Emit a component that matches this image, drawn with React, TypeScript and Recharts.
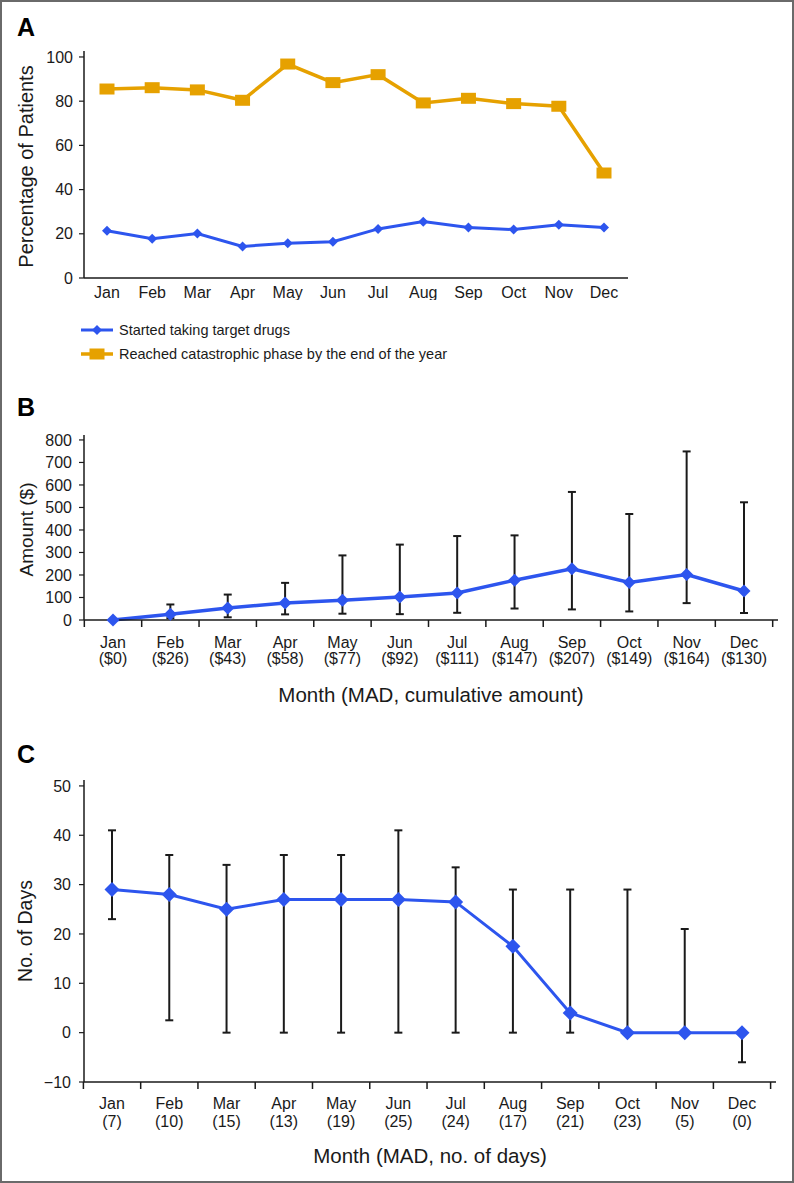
import React from "react";
import { LineChart, Line, XAxis, YAxis, ErrorBar } from "recharts";

const months = ["Jan", "Feb", "Mar", "Apr", "May", "Jun", "Jul", "Aug", "Sep", "Oct", "Nov", "Dec"];

// Panel A
const startedTargetDrugs = [21.4, 17.8, 20.1, 14.3, 15.7, 16.4, 22.2, 25.5, 22.8, 21.9, 24.1, 22.8];
const reachedCatastrophic = [85.5, 86.1, 85.1, 80.4, 96.8, 88.4, 92.0, 79.2, 81.3, 78.9, 77.7, 47.5];
const percentTicks = [0, 20, 40, 60, 80, 100];

// Panel B
const amountMad = ["$0", "$26", "$43", "$58", "$77", "$92", "$111", "$147", "$207", "$149", "$164", "$130"];
const amountMedian = [0, 26, 53, 76, 88, 102, 120, 177, 228, 167, 202, 129];
const amountLow = [0, 8, 12, 25, 28, 26, 32, 51, 47, 38, 75, 31];
const amountHigh = [0, 69, 113, 165, 287, 335, 373, 376, 569, 471, 749, 523];
const amountTicks = [0, 100, 200, 300, 400, 500, 600, 700, 800];

// Panel C
const daysMad = ["7", "10", "15", "13", "19", "25", "24", "17", "21", "23", "5", "0"];
const daysMedian = [29, 28, 25, 27, 27, 27, 26.5, 17.5, 4, 0, 0, 0];
const daysLow = [23, 2.5, 0, 0, 0, 0, 0, 0, 0, 0, 0, -6];
const daysHigh = [41, 36, 34, 36, 36, 41, 33.5, 29, 29, 29, 21, 0];
const daysTicks = [-10, 0, 10, 20, 30, 40, 50];

const percentData = months.map((month, i) => ({
  month,
  started: startedTargetDrugs[i],
  catastrophic: reachedCatastrophic[i]
}));

const amountData = months.map((month, i) => ({
  month,
  median: amountMedian[i],
  range: [amountMedian[i] - amountLow[i], amountHigh[i] - amountMedian[i]]
}));

const daysData = months.map((month, i) => ({
  month,
  median: daysMedian[i],
  range: [daysMedian[i] - daysLow[i], daysHigh[i] - daysMedian[i]]
}));

const BLUE = "#2d55ee";
const ORANGE = "#e6a100";
const INK = "#1a1a1a";
const SANS = '"Liberation Sans", Arial, Helvetica, sans-serif';

function diamondDot(r: number, fill: string) {
  return (props: any) => {
    const { cx, cy, index } = props;
    if (cx == null || cy == null) return <g key={`d-${index}`} />;
    return (
      <polygon
        key={`d-${index}`}
        points={`${cx},${cy - r} ${cx + r},${cy} ${cx},${cy + r} ${cx - r},${cy}`}
        fill={fill}
      />
    );
  };
}

function squareDot(w: number, h: number, fill: string) {
  return (props: any) => {
    const { cx, cy, index } = props;
    if (cx == null || cy == null) return <g key={`s-${index}`} />;
    return <rect key={`s-${index}`} x={cx - w / 2} y={cy - h / 2} width={w} height={h} fill={fill} />;
  };
}

type TickOpts = {
  band: number;
  sub: string[];
  size: number;
  line1: number;
  line2: number;
};

// two-line month labels, tick marks sit on the category boundaries
function monthTick(opts: TickOpts) {
  return (props: any) => {
    const { x, y, index, payload } = props;
    const left = x - opts.band / 2;
    const right = x + opts.band / 2;
    return (
      <g key={`t-${index}`}>
        <line x1={left} x2={left} y1={y} y2={y + 7} stroke={INK} strokeWidth={1.5} />
        {index === opts.sub.length - 1 && (
          <line x1={right} x2={right} y1={y} y2={y + 7} stroke={INK} strokeWidth={1.5} />
        )}
        <text x={x} y={y + opts.line1} textAnchor="middle" fill={INK} fontFamily={SANS} fontSize={opts.size}>
          {payload.value}
        </text>
        <text x={x} y={y + opts.line2} textAnchor="middle" fill={INK} fontFamily={SANS} fontSize={opts.size}>
          ({opts.sub[index]})
        </text>
      </g>
    );
  };
}

function yTitle(text: string, baselineX: number, size: number, dy = 0) {
  return (props: any) => {
    const vb = props.viewBox;
    const cy = vb.y + vb.height / 2 + dy;
    return (
      <text
        x={baselineX}
        y={cy}
        transform={`rotate(-90, ${baselineX}, ${cy})`}
        textAnchor="middle"
        fill={INK}
        fontFamily={SANS}
        fontSize={size}
      >
        {text}
      </text>
    );
  };
}

function xTitle(text: string, below: number, size: number) {
  return (props: any) => {
    const vb = props.viewBox;
    return (
      <text x={vb.x + vb.width / 2} y={vb.y + below} textAnchor="middle" fill={INK} fontFamily={SANS} fontSize={size}>
        {text}
      </text>
    );
  };
}

const axisLine = { stroke: INK, strokeWidth: 1.5 };
const yTickLine = { stroke: INK, strokeWidth: 1.2 };

export default function App() {
  return (
    <div
      style={{
        position: "absolute",
        left: 0,
        top: 0,
        width: 794,
        height: 1183,
        boxSizing: "border-box",
        border: "2px solid #6a6a6a",
        background: "#fff",
        fontFamily: SANS
      }}
    >
      <svg width={794} height={1183} style={{ position: "absolute", left: -2, top: -2 }}>
        <text x={17} y={36} fontFamily={SANS} fontWeight="bold" fontSize={25} fill="#000">A</text>
        <text x={17} y={416} fontFamily={SANS} fontWeight="bold" fontSize={25} fill="#000">B</text>
        <text x={17} y={763} fontFamily={SANS} fontWeight="bold" fontSize={25} fill="#000">C</text>

        <line x1={81} x2={113} y1={330} y2={330} stroke={BLUE} strokeWidth={3} />
        <polygon points="97,325 102,330 97,335 92,330" fill={BLUE} />
        <text x={119} y={335} fontFamily={SANS} fontSize={14.5} fill={INK}>Started taking target drugs</text>

        <line x1={81} x2={113} y1={354} y2={354} stroke={ORANGE} strokeWidth={3.5} />
        <rect x={89.5} y={348.5} width={15} height={11} fill={ORANGE} />
        <text x={119} y={359} fontFamily={SANS} fontSize={14.5} fill={INK}>
          Reached catastrophic phase by the end of the year
        </text>
      </svg>

      <div style={{ position: "absolute", left: -2, top: -2 }}>
        <LineChart width={794} height={300} data={percentData} margin={{ top: 51, right: 166, bottom: 0, left: 0 }}>
          <XAxis
            dataKey="month"
            padding={{ left: 23, right: 24 }}
            axisLine={axisLine}
            tickLine={false}
            tickSize={0}
            tickMargin={9}
            interval={0}
            height={22}
            tick={{ fill: INK, fontSize: 16, fontFamily: SANS }}
          />
          <YAxis
            width={84}
            domain={[0, 102.7]}
            ticks={percentTicks}
            interval={0}
            axisLine={axisLine}
            tickLine={yTickLine}
            tickSize={5}
            tickMargin={6}
            tick={{ fill: INK, fontSize: 16, fontFamily: SANS }}
            label={yTitle("Percentage of Patients", 32.5, 20, 2)}
          />
          <Line
            dataKey="catastrophic"
            stroke={ORANGE}
            strokeWidth={3.5}
            dot={squareDot(15, 11, ORANGE)}
            activeDot={false}
            isAnimationActive={false}
          />
          <Line
            dataKey="started"
            stroke={BLUE}
            strokeWidth={3}
            dot={diamondDot(5, BLUE)}
            activeDot={false}
            isAnimationActive={false}
          />
        </LineChart>
      </div>

      <div style={{ position: "absolute", left: -2, top: 398 }}>
        <LineChart width={794} height={310} data={amountData} margin={{ top: 35, right: 16, bottom: 0, left: 0 }}>
          <XAxis
            dataKey="month"
            padding={{ left: 29, right: 34 }}
            axisLine={axisLine}
            tickLine={false}
            tickSize={0}
            tickMargin={0}
            interval={0}
            height={90}
            tick={monthTick({ band: 57.36, sub: amountMad, size: 16, line1: 28, line2: 44 })}
            label={xTitle("Month (MAD, cumulative amount)", 82, 20.5)}
          />
          <YAxis
            width={84}
            domain={[0, 822]}
            ticks={amountTicks}
            interval={0}
            axisLine={axisLine}
            tickLine={yTickLine}
            tickSize={5}
            tickMargin={7}
            tick={{ fill: INK, fontSize: 16, fontFamily: SANS }}
            label={yTitle("Amount ($)", 33, 19, 2)}
          />
          <Line dataKey="median" stroke="none" dot={false} activeDot={false} isAnimationActive={false}>
            <ErrorBar dataKey="range" direction="y" width={4} stroke={INK} strokeWidth={2} />
          </Line>
          <Line
            dataKey="median"
            stroke={BLUE}
            strokeWidth={3.5}
            dot={diamondDot(6.5, BLUE)}
            activeDot={false}
            isAnimationActive={false}
          />
        </LineChart>
      </div>

      <div style={{ position: "absolute", left: -2, top: 738 }}>
        <LineChart width={794} height={442} data={daysData} margin={{ top: 40, right: 18, bottom: 0, left: 0 }}>
          <XAxis
            dataKey="month"
            padding={{ left: 28, right: 34 }}
            axisLine={axisLine}
            tickLine={false}
            tickSize={0}
            tickMargin={0}
            interval={0}
            height={100}
            tick={monthTick({ band: 57.2, sub: daysMad, size: 16, line1: 27, line2: 45 })}
            label={xTitle("Month (MAD, no. of days)", 81, 20.5)}
          />
          <YAxis
            width={84}
            domain={[-10, 51.2]}
            ticks={daysTicks}
            interval={0}
            axisLine={axisLine}
            tickLine={yTickLine}
            tickSize={5}
            tickMargin={8}
            tickFormatter={(v: number) => (v < 0 ? `\u2212${Math.abs(v)}` : `${v}`)}
            tick={{ fill: INK, fontSize: 16, fontFamily: SANS }}
            label={yTitle("No. of Days", 32.3, 19.5, 0)}
          />
          <Line dataKey="median" stroke="none" dot={false} activeDot={false} isAnimationActive={false}>
            <ErrorBar dataKey="range" direction="y" width={4} stroke={INK} strokeWidth={2} />
          </Line>
          <Line
            dataKey="median"
            stroke={BLUE}
            strokeWidth={3}
            dot={diamondDot(7.5, BLUE)}
            activeDot={false}
            isAnimationActive={false}
          />
        </LineChart>
      </div>
    </div>
  );
}
